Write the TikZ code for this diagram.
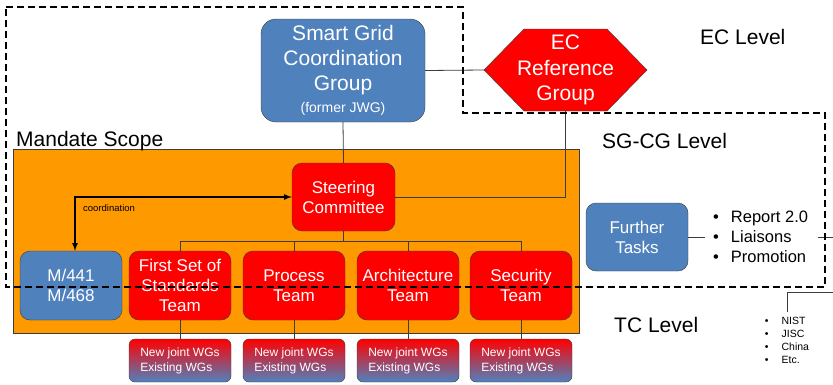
\documentclass[tikz,border=0pt]{standalone}
\usepackage{fontspec}
\setmainfont{Liberation Sans}

\definecolor{sgblue}{RGB}{79,129,189}
\definecolor{sgred}{RGB}{255,0,0}
\definecolor{sgorange}{RGB}{255,153,0}
\definecolor{edge}{RGB}{60,60,60}

\newcommand{\fsz}[2]{\fontsize{#1}{#2}\selectfont}

\begin{document}
\begin{tikzpicture}[x=1pt, y=-1pt,
  box/.style={draw=edge, rounded corners=10pt, text=white, align=center, inner sep=0pt},
  bluebox/.style={box, fill=sgblue},
  redbox/.style={box, fill=sgred},
  team/.style={redbox, minimum width=102pt, minimum height=69pt, font=\fsz{17}{20}},
  wgbox/.style={box, rounded corners=6pt, top color=sgred, bottom color=sgblue,
    minimum width=102pt, minimum height=43pt, align=left, font=\fsz{12}{15}},
  conn/.style={draw=edge, line width=0.8pt},
  levellabel/.style={font=\fsz{21}{25}, inner sep=0pt},
  levelline/.style={line width=2pt, dash pattern=on 7pt off 4pt}]
\useasboundingbox (0,0) rectangle (833,384);

% mandate scope
\node[draw=edge, fill=sgorange, minimum width=566pt, minimum height=184pt, inner sep=0pt] (scope) at (296,241) {};
\node[levellabel, anchor=base west] (scopelbl) at (16,146) {Mandate Scope};

% EC reference group (hexagon)
\filldraw[fill=sgred, draw=edge] (484,70) -- (524,29) -- (607,29) -- (647,70) -- (607,111) -- (524,111) -- cycle;
\node[text=white, align=center, font=\fsz{21}{25.5}, minimum width=163pt, minimum height=82pt, inner sep=0pt] (ecref) at (565.5,70) {EC\\Reference\\Group};

\node[bluebox, rounded corners=15pt, minimum width=164pt, minimum height=103pt, font=\fsz{21}{25}] (sgcg) at (343,70.5)
  {Smart Grid\\Coordination\\Group\\[-3pt]{\fsz{14}{16}(former JWG)}};
\node[redbox, minimum width=103pt, minimum height=68pt, font=\fsz{17}{20}] (steer) at (343.5,197) {Steering\\Committee};

\node[bluebox, minimum width=102pt, minimum height=69pt, font=\fsz{17}{20}] (mandates) at (71,285.5) {M/441\\M/468};
\foreach \n/\x/\txt in {first/180/{First Set of\\Standards\\Team}, process/294/{Process\\Team},
    arch/408/{Architecture\\Team}, sec/521/{Security\\Team}} {
  \node[team] (\n) at (\x,285.5) {\txt};
  \node[wgbox] (wg\n) at (\x,360.5) {New joint WGs\\Existing WGs};
}

\node[bluebox, minimum width=102pt, minimum height=68pt, font=\fsz{17}{20}] (further) at (637,237) {Further\\Tasks};
\node[anchor=west, align=left, inner sep=0pt, inner xsep=8pt, font=\fsz{16.5}{20}] (tasks) at (705,237)
  {\textbullet\hspace{12pt}Report 2.0\\\textbullet\hspace{12pt}Liaisons\\\textbullet\hspace{12pt}Promotion};
\node[anchor=north, align=left, inner sep=0pt, inner ysep=5pt, font=\fsz{10.5}{13}] (others) at (787,312)
  {\textbullet\hspace{13pt}NIST\\\textbullet\hspace{13pt}JISC\\\textbullet\hspace{13pt}China\\\textbullet\hspace{13pt}Etc.};

% connectors
\draw[conn] (sgcg.east) -- (ecref.west);
\draw[conn] (sgcg.south) -- (steer.north);
\draw[conn] (ecref.south) |- (steer.east);
\coordinate (bus) at (343.5,241);
\draw[conn] (steer.south) -- (bus);
\foreach \n in {first,process,arch,sec} {
  \draw[conn] (bus) -| (\n.north);
  \draw[conn] (\n.south) -- (wg\n.north);
}
\draw[conn] (further.east) -- (tasks.west);
\coordinate (tickL) at (818,237);
\coordinate (tickR) at (833,237);
\draw[conn] (tickL) -- (tickR);
\coordinate (brkR) at (833,292);
\draw[conn] (brkR) -| (others.north);

\draw[line width=1.6pt, <->, >=latex] (steer.west) -| ([xshift=4pt]mandates.north);
\node[anchor=base west, inner sep=0pt, font=\fsz{9.5}{11}] (coordlbl) at (83,211) {coordination};

% levels
\node[levellabel, anchor=base west] (eclbl) at (700,44) {EC Level};
\node[levellabel, anchor=base west] (sgcglbl) at (602,148) {SG-CG Level};
\node[levellabel, anchor=base west] (tclbl) at (614,332) {TC Level};
\draw[levelline] (6,7) -- (463,7) -- (463,113) -- (825,113) -- (825,287) -- (6,287) -- cycle;
\end{tikzpicture}
\end{document}
